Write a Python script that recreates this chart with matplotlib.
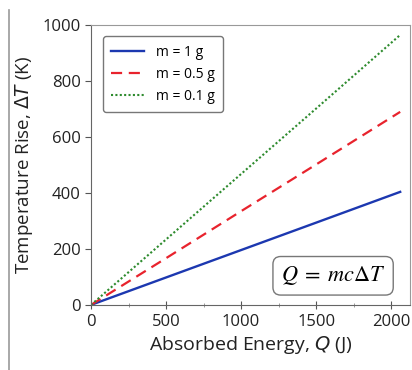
import matplotlib.pyplot as plt
from matplotlib.lines import Line2D

# data (absorbed energy in J, temperature rise in K)
energy = [0, 500, 1000, 1500, 2060]
rise_1g = [0, 98, 196, 294, 404]
rise_05g = [0, 167, 335, 502, 690]
rise_01g = [0, 234, 468, 702, 965]
labels = ['m = 1 g', 'm = 0.5 g', 'm = 0.1 g']

plt.rcParams['font.family'] = ['Open Sans', 'DejaVu Sans']
plt.rcParams['mathtext.fontset'] = 'stix'

fig = plt.figure(figsize=(4.12, 3.7), dpi=100)
ax = fig.add_axes([0.221, 0.176, 0.774, 0.756])

ax.plot(energy, rise_1g, color='#1c38b0', lw=1.7, label=labels[0])
ax.plot(energy, rise_05g, color='#e8232d', lw=1.6, ls=(0, (5, 3)), label=labels[1])
ax.plot(energy, rise_01g, color='#2e8b2e', lw=1.5, ls=(0, (1, 1.1)), label=labels[2])

ax.set_xlim(0, 2125)
ax.set_ylim(0, 1000)
ax.set_xticks([0, 500, 1000, 1500, 2000])
ax.set_xticks([250, 750, 1250, 1750], minor=True)
ax.set_yticks([0, 200, 400, 600, 800, 1000])

ax.tick_params(axis='x', direction='inout', length=6, labelsize=12, colors='#555555', labelcolor='#222222')
ax.tick_params(axis='x', which='minor', direction='inout', length=3, colors='#888888')
ax.tick_params(axis='y', direction='out', length=4, labelsize=12, colors='#555555', labelcolor='#222222')

for side in ['left', 'bottom']:
    ax.spines[side].set_color('#666666')
for side in ['top', 'right']:
    ax.spines[side].set_color('#999999')

ax.set_xlabel('Absorbed Energy, $Q$ (J)', fontsize=14, color='#222222', labelpad=3,
              math_fontfamily='dejavusans')
ax.set_ylabel(r'Temperature Rise, $\Delta T$ (K)', fontsize=13.5, color='#222222', labelpad=5,
              math_fontfamily='dejavusans')

leg = ax.legend(loc='upper left', fontsize=10, frameon=True, fancybox=True,
                handlelength=2.4, borderpad=0.6, labelspacing=0.5,
                bbox_to_anchor=(0.015, 0.985))
leg.get_frame().set_edgecolor('#777777')
leg.get_frame().set_linewidth(1.0)
leg.get_frame().set_alpha(1)

ax.text(0.759, 0.104, r'$Q\;=\;mc\Delta T$', transform=ax.transAxes, fontsize=16,
        ha='center', va='center',
        bbox=dict(boxstyle='round,pad=0.35', fc='white', ec='#777777', lw=1.0))

# thin grey border line at the left of the picture
fig.add_artist(Line2D([0.021, 0.021], [0.0, 0.973], transform=fig.transFigure,
                      color='#999999', lw=1.2))

fig.savefig('out.png', dpi=100)
